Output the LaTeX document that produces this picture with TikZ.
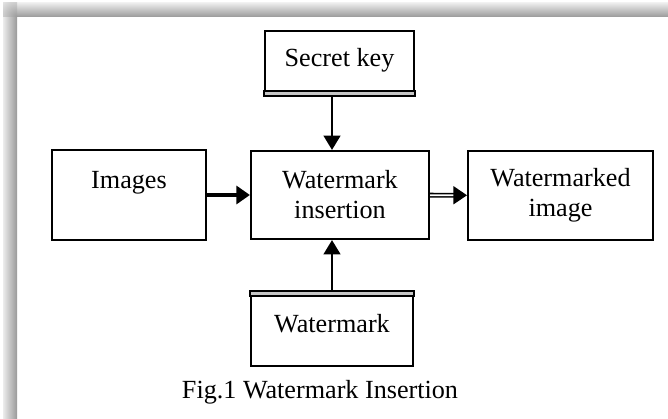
\documentclass[tikz,border=0pt]{standalone}
\usepackage{fontspec}
\setmainfont{Liberation Serif}
\usetikzlibrary{arrows.meta}

\tikzset{
  block/.style={rectangle, draw, line width=1.5pt, align=center,
    font=\fontsize{18.6}{21.3}\selectfont},
  thinarrow/.style={line width=1.6pt, -{Triangle[length=0.36cm,width=0.42cm]}},
  triplearrow/.style={line width=3.4pt, -{Triangle[length=0.34cm,width=0.45cm]}},
  dblarrow/.style={double, double distance=1.3pt, line width=1.1pt,
    -{Triangle[length=0.34cm,width=0.45cm]}},
  edgestrip/.style={draw, line width=1.2pt, fill=gray!45}
}

\begin{document}
\begin{tikzpicture}[x=0.025cm, y=-0.025cm]
        \useasboundingbox (0,0) rectangle (668,419);
        \fill[white] (0,0) rectangle (668,419);

        % Frame shadow
        \shade[top color=gray!15, bottom color=gray!80] (17,3) rectangle (668,17);
        \shade[left color=gray!15, right color=gray!80] (3,17) rectangle (17,419);
        \begin{scope}
          \clip (3,3) rectangle (17,17);
          \shade[inner color=gray!80, outer color=white] (17,17) circle (28);
        \end{scope}

        % Blocks
        \node[block, minimum width=3.72cm, minimum height=1.6cm] (secret) at (339.5,63) {Secret key\\[-14pt]};
        \node[block, minimum width=3.85cm, minimum height=2.25cm] (images) at (129,195) {Images\\\mbox{}};
        \node[block, minimum width=4.45cm, minimum height=2.2cm] (ins) at (340,195) {Watermark\\insertion};
        \node[block, minimum width=4.62cm, minimum height=2.22cm] (wmd) at (560.5,195.5) {Watermarked\\image};
        \node[block, minimum width=4.05cm, minimum height=1.85cm] (wm) at (332,329) {Watermark\\[-14pt]};

        % Double edges
        \draw[edgestrip] ([yshift=0.12cm]secret.south west) rectangle (secret.south east);
        \draw[edgestrip] (wm.north west) rectangle ([yshift=-0.12cm]wm.north east);

        % Caption
        \node[font=\fontsize{18.6}{21.3}\selectfont] (caption) at (320,392) {Fig.1 Watermark Insertion};

        % Arrows
        \draw[thinarrow] (secret.south -| wm.north) -- (ins.north -| wm.north);
        \draw[thinarrow] (wm.north) -- (ins.south -| wm.north);
        \draw[triplearrow] (images) -- (ins);
        \draw[dblarrow] (ins) -- (wmd);
    \end{tikzpicture}
\end{document}
